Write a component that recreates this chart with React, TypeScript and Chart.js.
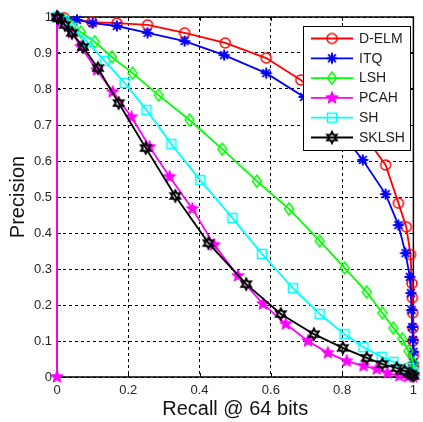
import React, { useEffect, useRef } from "react";
import { Chart, registerables } from "chart.js";

Chart.register(...registerables);

const seriesNames = ["D-ELM", "ITQ", "LSH", "PCAH", "SH", "SKLSH"];
const seriesColors = ["#FF0000", "#0000FF", "#00FF00", "#FF00FF", "#00FFFF", "#000000"];
const seriesMarkers = ["circle", "asterisk", "diamond", "pentagram", "square", "hexagram"];

const delmX = [0, 0.02, 0.098, 0.168, 0.254, 0.358, 0.472, 0.587, 0.684, 0.77, 0.855, 0.922, 0.958, 0.98, 0.992, 0.996, 0.997, 0.998, 0.999, 0.999, 1, 1, 1];
const delmY = [1, 0.998, 0.986, 0.983, 0.978, 0.956, 0.928, 0.886, 0.825, 0.76, 0.68, 0.589, 0.483, 0.417, 0.34, 0.26, 0.22, 0.178, 0.136, 0.1, 0.06, 0.03, 0.005];

const itqX = [0, 0.056, 0.1, 0.168, 0.254, 0.358, 0.469, 0.587, 0.693, 0.78, 0.858, 0.922, 0.958, 0.978, 0.99, 0.993, 0.995, 0.997, 0.999, 1, 1, 1];
const itqY = [1, 0.992, 0.983, 0.975, 0.956, 0.933, 0.894, 0.844, 0.778, 0.7, 0.603, 0.508, 0.422, 0.344, 0.278, 0.233, 0.186, 0.139, 0.103, 0.07, 0.04, 0.01];

const lshX = [0, 0.02, 0.04, 0.067, 0.106, 0.154, 0.212, 0.285, 0.372, 0.464, 0.561, 0.651, 0.737, 0.807, 0.869, 0.913, 0.944, 0.969, 0.986, 1, 1];
const lshY = [1, 0.99, 0.975, 0.958, 0.931, 0.889, 0.844, 0.783, 0.714, 0.633, 0.544, 0.467, 0.378, 0.303, 0.236, 0.178, 0.136, 0.106, 0.072, 0.039, 0.015];

const pcahX = [0, 0, 0.01, 0.042, 0.067, 0.112, 0.156, 0.209, 0.26, 0.316, 0.38, 0.441, 0.508, 0.578, 0.642, 0.704, 0.76, 0.813, 0.86, 0.897, 0.927, 0.961, 0.985, 1];
const pcahY = [0, 1, 0.985, 0.956, 0.917, 0.853, 0.792, 0.722, 0.639, 0.556, 0.467, 0.367, 0.281, 0.203, 0.147, 0.1, 0.067, 0.044, 0.031, 0.022, 0.011, 0.003, 0.001, 0];

const shX = [0, 0.02, 0.045, 0.085, 0.134, 0.19, 0.251, 0.321, 0.402, 0.492, 0.575, 0.662, 0.737, 0.807, 0.86, 0.911, 0.944, 0.989, 1];
const shY = [1, 0.99, 0.97, 0.93, 0.878, 0.817, 0.742, 0.647, 0.547, 0.442, 0.342, 0.247, 0.175, 0.119, 0.083, 0.056, 0.042, 0.025, 0.01];

const sklshX = [0, 0.003, 0.022, 0.042, 0.073, 0.115, 0.173, 0.249, 0.332, 0.425, 0.531, 0.628, 0.721, 0.802, 0.869, 0.913, 0.953, 0.975, 0.994, 1];
const sklshY = [1, 0.997, 0.978, 0.956, 0.917, 0.858, 0.761, 0.636, 0.503, 0.372, 0.258, 0.175, 0.119, 0.081, 0.053, 0.036, 0.025, 0.017, 0.008, 0.003];

const seriesX = [delmX, itqX, lshX, pcahX, shX, sklshX];
const seriesY = [delmY, itqY, lshY, pcahY, shY, sklshY];

const xTicks = [0, 0.2, 0.4, 0.6, 0.8, 1];
const yTicks = [0, 0.1, 0.2, 0.3, 0.4, 0.5, 0.6, 0.7, 0.8, 0.9, 1];
const xTitle = "Recall @ 64 bits";
const yTitle = "Precision";

const FONT = "'Liberation Sans', Arial, sans-serif";

function makeMarker(kind: string, color: string): HTMLCanvasElement {
  const c = document.createElement("canvas");
  c.width = 18;
  c.height = 18;
  const g = c.getContext("2d") as CanvasRenderingContext2D;
  const cx = 9, cy = 9;
  g.strokeStyle = color;
  g.fillStyle = color;
  g.lineWidth = 1.5;
  g.beginPath();
  if (kind === "circle") {
    g.arc(cx, cy, 5, 0, Math.PI * 2);
    g.stroke();
  } else if (kind === "asterisk") {
    g.lineWidth = 2;
    const r = 5.5;
    for (let k = 0; k < 4; k++) {
      const a = (k * Math.PI) / 4;
      g.moveTo(cx - r * Math.cos(a), cy - r * Math.sin(a));
      g.lineTo(cx + r * Math.cos(a), cy + r * Math.sin(a));
    }
    g.stroke();
  } else if (kind === "diamond") {
    g.moveTo(cx, cy - 6);
    g.lineTo(cx + 4.5, cy);
    g.lineTo(cx, cy + 6);
    g.lineTo(cx - 4.5, cy);
    g.closePath();
    g.stroke();
  } else if (kind === "square") {
    g.rect(cx - 4.5, cy - 4.5, 9, 9);
    g.stroke();
  } else if (kind === "pentagram") {
    for (let k = 0; k < 10; k++) {
      const r = k % 2 === 0 ? 6.5 : 2.8;
      const a = -Math.PI / 2 + (k * Math.PI) / 5;
      const px = cx + r * Math.cos(a), py = cy + r * Math.sin(a);
      if (k === 0) g.moveTo(px, py); else g.lineTo(px, py);
    }
    g.closePath();
    g.fill();
    g.lineWidth = 1;
    g.stroke();
  } else if (kind === "hexagram") {
    for (let k = 0; k < 12; k++) {
      const r = k % 2 === 0 ? 5.5 : 3;
      const a = -Math.PI / 2 + (k * Math.PI) / 6;
      const px = cx + r * Math.cos(a), py = cy + r * Math.sin(a);
      if (k === 0) g.moveTo(px, py); else g.lineTo(px, py);
    }
    g.closePath();
    g.lineWidth = 2;
    g.stroke();
  }
  return c;
}

const boxPlugin = {
  id: "matlabBox",
  beforeDatasetsDraw(chart: any) {
    const { ctx, chartArea } = chart;
    const { left, right, top, bottom } = chartArea;
    const xs = chart.scales.x;
    const ys = chart.scales.y;
    ctx.save();
    ctx.strokeStyle = "#000";
    ctx.lineWidth = 1.5;
    ctx.strokeRect(left, top, right - left, bottom - top);
    ctx.lineWidth = 1;
    ctx.beginPath();
    const tl = 4;
    for (const v of xTicks) {
      const p = Math.round(xs.getPixelForValue(v)) + 0.5;
      ctx.moveTo(p, bottom);
      ctx.lineTo(p, bottom - tl);
      ctx.moveTo(p, top);
      ctx.lineTo(p, top + tl);
    }
    for (const v of yTicks) {
      const p = Math.round(ys.getPixelForValue(v)) + 0.5;
      ctx.moveTo(left, p);
      ctx.lineTo(left + tl, p);
      ctx.moveTo(right, p);
      ctx.lineTo(right - tl, p);
    }
    ctx.stroke();
    ctx.restore();
  },
};

const legendPlugin = {
  id: "matlabLegend",
  afterDraw(chart: any) {
    const { ctx } = chart;
    const bx = 303, by = 26, bw = 107, bh = 124;
    ctx.save();
    ctx.fillStyle = "#fff";
    ctx.fillRect(bx, by, bw, bh);
    ctx.strokeStyle = "#000";
    ctx.lineWidth = 1;
    ctx.strokeRect(bx + 0.5, by + 0.5, bw, bh);
    chart.data.datasets.forEach((ds: any, i: number) => {
      const y = by + 12.5 + i * 19.8;
      ctx.strokeStyle = ds.borderColor;
      ctx.lineWidth = 1.8;
      ctx.beginPath();
      ctx.moveTo(311, y);
      ctx.lineTo(353, y);
      ctx.stroke();
      const m = ds.pointStyle as HTMLCanvasElement;
      ctx.drawImage(m, 332 - m.width / 2, y - m.height / 2);
      ctx.fillStyle = "#222";
      ctx.font = `14px ${FONT}`;
      ctx.textAlign = "left";
      ctx.textBaseline = "middle";
      ctx.fillText(ds.label, 359, y + 0.5);
    });
    ctx.restore();
  },
};

export default function App() {
  const ref = useRef<HTMLCanvasElement | null>(null);

  useEffect(() => {
    document.body.style.margin = "0";
    const canvas = ref.current;
    if (!canvas) return;
    const datasets = seriesNames.map((name, i) => {
      const marker = makeMarker(seriesMarkers[i], seriesColors[i]);
      return {
        label: name,
        data: seriesX[i].map((x, j) => ({ x, y: seriesY[i][j] })),
        borderColor: seriesColors[i],
        backgroundColor: seriesColors[i],
        borderWidth: 1.8,
        pointStyle: marker,
        pointRadius: 5,
        tension: 0,
        clip: false,
        order: seriesNames.length - i,
      };
    });
    const chart = new Chart(canvas, {
      type: "line",
      data: { datasets },
      options: {
        responsive: false,
        animation: false,
        events: [],
        layout: { padding: { top: 17, right: 8, left: 0, bottom: 0 } },
        plugins: { legend: { display: false }, tooltip: { enabled: false } },
        scales: {
          x: {
            type: "linear",
            min: 0,
            max: 1,
            afterFit: (s: any) => { s.height = 45; },
            afterBuildTicks: (s: any) => { s.ticks = xTicks.map((v) => ({ value: v })); },
            ticks: {
              padding: 6,
              color: "#262626",
              font: { family: FONT, size: 13 },
              callback: (v: any) => String(Math.round(Number(v) * 10) / 10),
              maxRotation: 0,
            },
            grid: { color: "#000", lineWidth: 1, drawTicks: false },
            border: { display: false, dash: [3, 3] },
            title: {
              display: true,
              text: xTitle,
              color: "#111",
              font: { family: FONT, size: 20 },
              padding: { top: 0, bottom: 1 },
            },
          },
          y: {
            type: "linear",
            min: 0,
            max: 1,
            afterFit: (s: any) => { s.width = 57; },
            afterBuildTicks: (s: any) => { s.ticks = yTicks.map((v) => ({ value: v })); },
            ticks: {
              padding: 5,
              color: "#262626",
              font: { family: FONT, size: 13 },
              callback: (v: any) => String(Math.round(Number(v) * 10) / 10),
            },
            grid: { color: "#000", lineWidth: 1, drawTicks: false },
            border: { display: false, dash: [3, 3] },
            title: {
              display: true,
              text: yTitle,
              color: "#111",
              font: { family: FONT, size: 20 },
              padding: { top: 6, bottom: 0 },
            },
          },
        },
      },
      plugins: [boxPlugin, legendPlugin],
    } as any);
    return () => chart.destroy();
  }, []);

  return (
    <div style={{ position: "absolute", left: 0, top: 0, width: 423, height: 422, background: "#fff" }}>
      <canvas ref={ref} width={423} height={422} />
    </div>
  );
}
